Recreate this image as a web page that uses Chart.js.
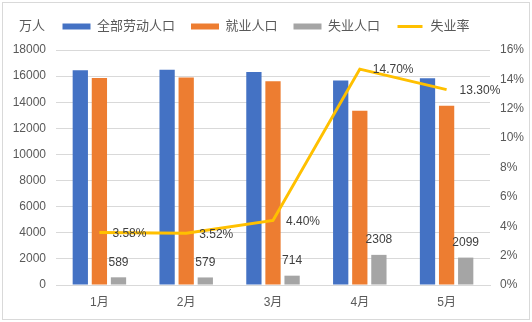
<!DOCTYPE html>
<html>
<head>
<meta charset="utf-8">
<script src="https://cdn.jsdelivr.net/npm/chart.js@4.4.0/dist/chart.umd.min.js"></script>
<style>
	html, body { margin: 0; padding: 0; background: #fff; }
	#wrap { position: relative; width: 532px; height: 322px; }
	#frame { position: absolute; left: 2px; top: 2px; width: 526px; height: 316px; border: 1px solid #d9d9d9; }
	#chartContainer { position: absolute; left: 0; top: 0; }
</style>
</head>
<body>
<div id="wrap">
	<div id="frame"></div>
	<canvas id="chartContainer" width="532" height="322"></canvas>
</div>
<script>
var months = ['1月', '2月', '3月', '4月', '5月'];
var laborForce = [16440, 16480, 16310, 15660, 15830];
var employed = [15850, 15900, 15600, 13350, 13730];
var unemployed = [589, 579, 714, 2308, 2099];
var unemploymentRate = [3.58, 3.52, 4.40, 14.70, 13.30];
var leftTicks = { min: 0, max: 18000, step: 2000 };
var rightTicks = { min: 0, max: 16, step: 2 };

var fontFamily = '"Liberation Sans", "Noto Sans CJK SC", sans-serif';
var textColor = '#595959';
var gridColor = '#d9d9d9';

// extra gap under the legend
var legendGap = {
	id: 'legendGap',
	beforeInit: function (chart) {
		var fit = chart.legend.fit;
		chart.legend.fit = function () {
			fit.call(this);
			this.height += 7;
		};
	}
};

// value labels for the unemployed bars and the rate line, plus the unit text
var valueLabels = {
	id: 'valueLabels',
	afterDatasetsDraw: function (chart) {
		var ctx = chart.ctx;
		ctx.save();
		ctx.font = '12px ' + fontFamily;
		ctx.fillStyle = '#404040';
		ctx.textBaseline = 'middle';

		ctx.textAlign = 'center';
		chart.getDatasetMeta(2).data.forEach(function (bar, i) {
			ctx.fillText(unemployed[i], bar.x, bar.y - 15);
		});

		ctx.textAlign = 'left';
		chart.getDatasetMeta(3).data.forEach(function (pt, i) {
			ctx.fillText(unemploymentRate[i].toFixed(2) + '%', pt.x + 13, pt.y + 1);
		});

		var box = chart.legend.legendHitBoxes[0];
		ctx.fillStyle = textColor;
		ctx.font = '13px ' + fontFamily;
		ctx.textAlign = 'center';
		ctx.fillText('万人', 32, box.top + box.height / 2);
		ctx.restore();
	}
};

var myChart = document.getElementById('chartContainer').getContext('2d');

var popChart = new Chart(myChart, {
	type: 'bar',
	data: {
		labels: months,
		datasets: [{
			label: '全部劳动人口',
			data: laborForce,
			backgroundColor: '#4472C4',
			yAxisID: 'y',
			order: 1
		}, {
			label: '就业人口',
			data: employed,
			backgroundColor: '#ED7D31',
			yAxisID: 'y',
			order: 1
		}, {
			label: '失业人口',
			data: unemployed,
			backgroundColor: '#A5A5A5',
			yAxisID: 'y',
			order: 1
		}, {
			type: 'line',
			label: '失业率',
			data: unemploymentRate,
			borderColor: '#FFC000',
			backgroundColor: '#FFC000',
			borderWidth: 3,
			pointRadius: 0,
			tension: 0,
			yAxisID: 'y1',
			order: 0
		}]
	},
	options: {
		responsive: false,
		animation: false,
		datasets: {
			bar: { categoryPercentage: 0.66, barPercentage: 0.8 }
		},
		layout: { padding: { top: 4, left: 0, right: 0, bottom: 0 } },
		plugins: {
			tooltip: { enabled: false },
			legend: {
				position: 'top',
				labels: {
					boxWidth: 28,
					boxHeight: 6,
					padding: 16,
					color: textColor,
					font: { size: 13, family: fontFamily },
					sort: function (a, b) { return a.datasetIndex - b.datasetIndex; },
					generateLabels: function (chart) {
						var items = Chart.defaults.plugins.legend.labels.generateLabels(chart);
						items.forEach(function (it) {
							if (it.datasetIndex === 3) {
								// thin line swatch
								it.fillStyle = '#FFC000';
								it.strokeStyle = '#ffffff';
								it.lineWidth = 3;
							} else {
								it.lineWidth = 0;
							}
						});
						return items;
					}
				}
			}
		},
		scales: {
			x: {
				grid: { display: false },
				border: { color: gridColor },
				ticks: { color: textColor, font: { size: 12, family: fontFamily }, padding: 2 },
				afterFit: function (s) { s.height = 37; }
			},
			y: {
				position: 'left',
				min: leftTicks.min,
				max: leftTicks.max,
				ticks: {
					stepSize: leftTicks.step, color: textColor, padding: 10, font: { size: 12, family: fontFamily },
					callback: function (v) { return String(v); }
				},
				grid: { color: gridColor, drawTicks: false },
				border: { display: false },
				afterFit: function (s) { s.width = 56; }
			},
			y1: {
				position: 'right',
				min: rightTicks.min,
				max: rightTicks.max,
				ticks: {
					stepSize: rightTicks.step, color: textColor, padding: 10, font: { size: 12, family: fontFamily },
					callback: function (v) { return v + '%'; }
				},
				grid: { display: false, drawTicks: false },
				border: { display: false },
				afterFit: function (s) { s.width = 42; }
			}
		}
	},
	plugins: [legendGap, valueLabels]
});
</script>
</body>
</html>
